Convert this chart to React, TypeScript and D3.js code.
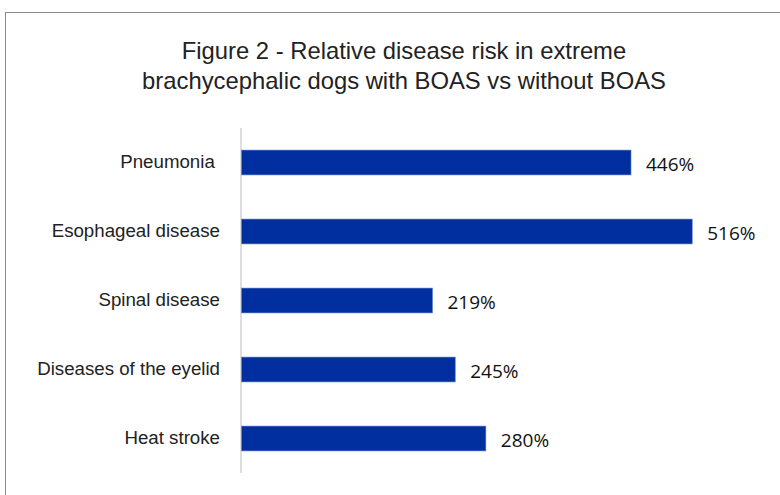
import React from "react";
import * as d3 from "d3";

const categories = [
  "Pneumonia ",
  "Esophageal disease",
  "Spinal disease",
  "Diseases of the eyelid",
  "Heat stroke",
];
const riskValues = [446, 516, 219, 245, 280];
const titleLines = [
  "Figure 2 - Relative disease risk in extreme",
  "brachycephalic dogs with BOAS vs without BOAS",
];

const W = 780;
const H = 495;
const plot = { left: 241, top: 128, bottom: 473 };

export default function App() {
  const x = d3.scaleLinear().domain([0, 446]).range([plot.left, 631]);
  const y = d3
    .scaleBand<string>()
    .domain(categories)
    .range([plot.top, plot.bottom])
    .paddingInner(0.64)
    .paddingOuter(0.32);

  return (
    <svg
      width={W}
      height={H}
      style={{ position: "absolute", left: 0, top: 0, background: "#fff" }}
    >
      <rect x={5.5} y={12.5} width={900} height={700} fill="#fff" stroke="#8a8a8a" strokeWidth={1} />
      {titleLines.map((t, i) => (
        <text
          key={i}
          x={404}
          y={59 + i * 30}
          textAnchor="middle"
          fontFamily="'Liberation Sans', Arial, sans-serif"
          fontSize={23.8}
          fill="#222"
        >
          {t}
        </text>
      ))}
      <line x1={plot.left} x2={plot.left} y1={plot.top} y2={plot.bottom} stroke="#d4d4d4" strokeWidth={1.5} />
      {categories.map((c, i) => {
        const yy = y(c)!;
        const bw = y.bandwidth();
        const xe = x(riskValues[i]);
        return (
          <g key={c}>
            <rect
              x={plot.left + 0.5}
              y={yy}
              width={xe - plot.left - 0.5}
              height={bw}
              fill="#012fa0"
              stroke="#5a7ccc"
              strokeWidth={0.6}
            />
            <text
              x={220}
              y={yy + bw / 2 - 1}
              dominantBaseline="central"
              textAnchor="end"
              fontFamily="'Liberation Sans', Arial, sans-serif"
              fontSize={18.7}
              fill="#222"
              style={{ whiteSpace: "pre" }}
            >
              {c}
            </text>
            <text
              x={xe + 15}
              y={yy + bw / 2 + 1.5}
              dominantBaseline="central"
              fontFamily="'Open Sans', 'Noto Sans', sans-serif"
              fontSize={19}
              fill="#111"
            >
              {riskValues[i]}%
            </text>
          </g>
        );
      })}
    </svg>
  );
}
